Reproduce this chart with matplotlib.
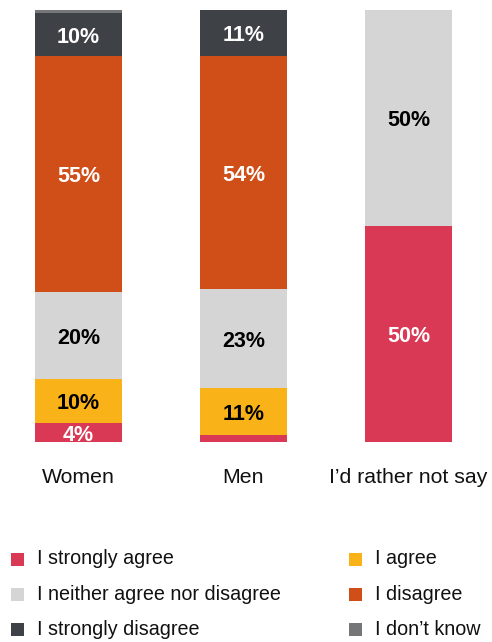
import matplotlib
matplotlib.use("Agg")
import matplotlib.pyplot as plt
from matplotlib.patches import Rectangle

plt.rcParams['font.family'] = ['Liberation Sans', 'DejaVu Sans']

categories = ["Women", "Men", "I\u2019d rather not say"]
series_names = ["I strongly agree", "I agree", "I neither agree nor disagree",
                "I disagree", "I strongly disagree", "I don\u2019t know"]
strongly_agree = [4.5, 1.6, 50]
agree = [10.1, 10.9, 0]
neither = [20.1, 22.9, 50]
disagree = [54.7, 54, 0]
strongly_disagree = [9.9, 10.6, 0]
dont_know = [0.7, 0, 0]
labels_strongly_agree = ["4%", "", "50%"]
labels_agree = ["10%", "11%", ""]
labels_neither = ["20%", "23%", "50%"]
labels_disagree = ["55%", "54%", ""]
labels_strongly_disagree = ["10%", "11%", ""]
labels_dont_know = ["", "", ""]

colors = ["#D93954", "#F9B217", "#D4D5D4", "#D04E17", "#3E4145", "#747678"]
text_colors = ["white", "black", "black", "white", "white", "white"]

series = [strongly_agree, agree, neither, disagree, strongly_disagree, dont_know]
series_labels = [labels_strongly_agree, labels_agree, labels_neither,
                 labels_disagree, labels_strongly_disagree, labels_dont_know]

W, H = 492, 642
fig = plt.figure(figsize=(W / 100, H / 100), dpi=100)
ax = fig.add_axes([0, (H - 442) / H, 1, 432 / H])

x = list(range(len(categories)))
bw = 87 / 165
bottoms = [0.0] * len(categories)
for vals, labs, c, tc in zip(series, series_labels, colors, text_colors):
    ax.bar(x, vals, width=bw, bottom=bottoms, color=c, linewidth=0)
    for i, (v, lab) in enumerate(zip(vals, labs)):
        if lab:
            ax.annotate(lab, (i, bottoms[i] + v / 2), xytext=(0, -3),
                        textcoords='offset pixels', ha='center', va='center',
                        color=tc, fontsize=15.5, fontweight='bold')
    bottoms = [b + v for b, v in zip(bottoms, vals)]

ax.set_xlim((0 - 78.5) / 165, (W - 78.5) / 165)
ax.set_ylim(0, 100)
ax.axis('off')

for i, cat in enumerate(categories):
    ax.text(i, -8.2, cat, ha='center', va='center', fontsize=15.3, color='#111111')

# legend
rows_y = [559, 594.5, 629.5]
cols_x = [11, 349]
order = [(0, 0, 0), (1, 1, 0), (2, 0, 1), (3, 1, 1), (4, 0, 2), (5, 1, 2)]
for si, col, row in order:
    px = cols_x[col]
    py = rows_y[row]
    fig.patches.append(Rectangle((px / W, 1 - (py + 6.5) / H), 13 / W, 13 / H,
                                 transform=fig.transFigure, color=colors[si],
                                 linewidth=0))
    fig.text((px + 26) / W, 1 - py / H, series_names[si], ha='left', va='center',
             fontsize=14.2, color='#111111')

fig.savefig("out.png", dpi=100)
